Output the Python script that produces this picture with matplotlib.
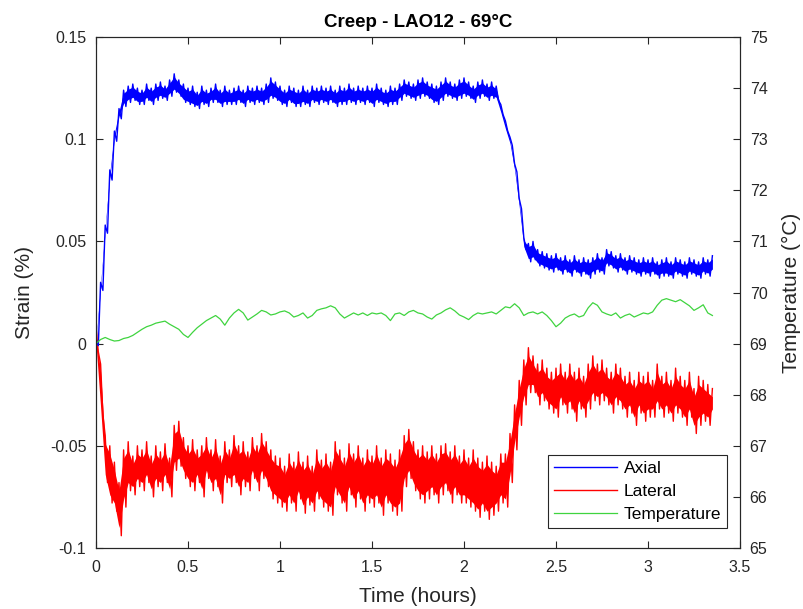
import numpy as np
import matplotlib
matplotlib.use("Agg")
import matplotlib.pyplot as plt

plt.rcParams['font.family'] = ['Liberation Sans', 'DejaVu Sans']

title = "Creep - LAO12 - 69°C"
time_step = 0.025  # hours between envelope readings
x_ticks = [0, 0.5, 1, 1.5, 2, 2.5, 3, 3.5]
x_ticklabels = ["0", "0.5", "1", "1.5", "2", "2.5", "3", "3.5"]
y_ticks = [-0.1, -0.05, 0, 0.05, 0.1, 0.15]
y_ticklabels = ["-0.1", "-0.05", "0", "0.05", "0.1", "0.15"]
t_ticks = [65, 66, 67, 68, 69, 70, 71, 72, 73, 74, 75]

# Axial strain (%) envelope: upper and lower edge of noisy band
axial_hi = [0.002, 0.030, 0.058, 0.085, 0.104, 0.115, 0.124, 0.126, 0.127, 0.125,
            0.124, 0.127, 0.125, 0.127, 0.128, 0.126, 0.129, 0.132, 0.129, 0.127,
            0.125, 0.126, 0.123, 0.126, 0.124, 0.125, 0.127, 0.124, 0.126, 0.124,
            0.125, 0.126, 0.124, 0.126, 0.125, 0.126, 0.125, 0.127, 0.130, 0.128,
            0.126, 0.124, 0.126, 0.125, 0.124, 0.126, 0.124, 0.126, 0.125, 0.126,
            0.125, 0.126, 0.124, 0.126, 0.125, 0.127, 0.125, 0.126, 0.125, 0.126,
            0.125, 0.127, 0.125, 0.124, 0.126, 0.125, 0.127, 0.129, 0.128, 0.127,
            0.129, 0.130, 0.128, 0.127, 0.126, 0.128, 0.130, 0.128, 0.127, 0.129,
            0.130, 0.128, 0.126, 0.128, 0.129, 0.127, 0.128, 0.126, 0.117, 0.109,
            0.101, 0.088, 0.071, 0.052, 0.049, 0.050, 0.046, 0.045, 0.044, 0.043,
            0.044, 0.042, 0.043, 0.041, 0.043, 0.041, 0.042, 0.041, 0.042, 0.044,
            0.042, 0.046, 0.045, 0.043, 0.044, 0.042, 0.043, 0.042, 0.041, 0.042,
            0.041, 0.042, 0.040, 0.041, 0.042, 0.040, 0.042, 0.041, 0.040, 0.042,
            0.041, 0.040, 0.042, 0.041, 0.043]
axial_lo = [-0.001, 0.026, 0.054, 0.080, 0.099, 0.110, 0.116, 0.118, 0.119, 0.117,
            0.117, 0.119, 0.117, 0.119, 0.120, 0.119, 0.121, 0.123, 0.121, 0.118,
            0.117, 0.116, 0.115, 0.117, 0.116, 0.118, 0.118, 0.116, 0.117, 0.117,
            0.117, 0.118, 0.116, 0.118, 0.117, 0.118, 0.117, 0.118, 0.120, 0.119,
            0.117, 0.116, 0.118, 0.116, 0.116, 0.117, 0.116, 0.118, 0.117, 0.118,
            0.117, 0.118, 0.116, 0.117, 0.117, 0.118, 0.117, 0.118, 0.117, 0.118,
            0.116, 0.118, 0.117, 0.116, 0.117, 0.117, 0.119, 0.121, 0.120, 0.119,
            0.120, 0.121, 0.120, 0.118, 0.117, 0.119, 0.121, 0.120, 0.119, 0.120,
            0.121, 0.120, 0.118, 0.120, 0.121, 0.119, 0.120, 0.119, 0.112, 0.104,
            0.097, 0.084, 0.066, 0.046, 0.040, 0.041, 0.038, 0.037, 0.036, 0.035,
            0.036, 0.034, 0.035, 0.033, 0.035, 0.033, 0.034, 0.032, 0.034, 0.035,
            0.034, 0.038, 0.037, 0.035, 0.036, 0.034, 0.035, 0.034, 0.033, 0.034,
            0.033, 0.034, 0.032, 0.033, 0.033, 0.032, 0.034, 0.033, 0.032, 0.034,
            0.033, 0.032, 0.034, 0.033, 0.035]

# Lateral strain (%) envelope
lateral_hi = [0.008, -0.010, -0.045, -0.050, -0.058, -0.068, -0.052, -0.048, -0.055, -0.050,
              -0.052, -0.048, -0.055, -0.050, -0.053, -0.049, -0.056, -0.040, -0.038, -0.046,
              -0.050, -0.047, -0.052, -0.050, -0.046, -0.052, -0.047, -0.055, -0.048, -0.052,
              -0.045, -0.050, -0.048, -0.053, -0.046, -0.050, -0.044, -0.048, -0.052, -0.055,
              -0.056, -0.060, -0.054, -0.058, -0.053, -0.058, -0.055, -0.060, -0.052, -0.057,
              -0.054, -0.058, -0.048, -0.052, -0.056, -0.049, -0.054, -0.050, -0.056, -0.052,
              -0.055, -0.050, -0.056, -0.052, -0.054, -0.057, -0.052, -0.045, -0.042, -0.048,
              -0.052, -0.050, -0.053, -0.050, -0.054, -0.050, -0.049, -0.053, -0.050, -0.055,
              -0.052, -0.056, -0.052, -0.056, -0.058, -0.055, -0.058, -0.060, -0.054, -0.054,
              -0.044, -0.030, -0.018, -0.008, -0.002, -0.006, -0.010, -0.008, -0.012, -0.014,
              -0.012, -0.010, -0.014, -0.010, -0.014, -0.012, -0.016, -0.010, -0.006, -0.010,
              -0.008, -0.012, -0.014, -0.010, -0.012, -0.016, -0.014, -0.018, -0.014, -0.016,
              -0.014, -0.018, -0.010, -0.016, -0.014, -0.018, -0.012, -0.016, -0.018, -0.014,
              -0.022, -0.016, -0.018, -0.020, -0.022]
lateral_lo = [-0.004, -0.035, -0.068, -0.078, -0.082, -0.094, -0.080, -0.072, -0.074, -0.070,
              -0.072, -0.068, -0.075, -0.070, -0.072, -0.068, -0.075, -0.062, -0.060, -0.066,
              -0.070, -0.072, -0.068, -0.075, -0.066, -0.072, -0.070, -0.078, -0.068, -0.070,
              -0.068, -0.074, -0.070, -0.072, -0.066, -0.072, -0.066, -0.070, -0.076, -0.078,
              -0.080, -0.082, -0.078, -0.082, -0.076, -0.083, -0.079, -0.082, -0.076, -0.080,
              -0.082, -0.084, -0.074, -0.078, -0.082, -0.074, -0.080, -0.076, -0.082, -0.078,
              -0.080, -0.078, -0.084, -0.078, -0.082, -0.084, -0.082, -0.070, -0.066, -0.072,
              -0.076, -0.078, -0.076, -0.074, -0.078, -0.074, -0.072, -0.078, -0.074, -0.078,
              -0.078, -0.080, -0.082, -0.085, -0.082, -0.086, -0.084, -0.082, -0.078, -0.080,
              -0.068, -0.052, -0.040, -0.030, -0.024, -0.024, -0.030, -0.028, -0.032, -0.034,
              -0.036, -0.030, -0.034, -0.032, -0.038, -0.032, -0.036, -0.032, -0.028, -0.030,
              -0.028, -0.030, -0.034, -0.030, -0.032, -0.036, -0.034, -0.040, -0.034, -0.038,
              -0.036, -0.036, -0.032, -0.036, -0.034, -0.038, -0.034, -0.036, -0.040, -0.036,
              -0.044, -0.040, -0.038, -0.040, -0.036]

# Temperature (°C)
temperature = [69.00, 69.08, 69.12, 69.08, 69.05, 69.06, 69.10, 69.12, 69.16, 69.22,
               69.28, 69.33, 69.36, 69.40, 69.42, 69.44, 69.38, 69.33, 69.28, 69.18,
               69.12, 69.22, 69.31, 69.38, 69.45, 69.50, 69.55, 69.48, 69.36, 69.50,
               69.60, 69.67, 69.60, 69.46, 69.52, 69.58, 69.65, 69.62, 69.56, 69.58,
               69.62, 69.64, 69.60, 69.52, 69.55, 69.60, 69.50, 69.55, 69.65, 69.68,
               69.70, 69.74, 69.70, 69.58, 69.50, 69.55, 69.60, 69.56, 69.60, 69.55,
               69.60, 69.58, 69.60, 69.55, 69.45, 69.58, 69.60, 69.55, 69.62, 69.65,
               69.60, 69.58, 69.52, 69.48, 69.56, 69.60, 69.66, 69.70, 69.64, 69.56,
               69.52, 69.47, 69.55, 69.60, 69.58, 69.60, 69.62, 69.58, 69.65, 69.72,
               69.70, 69.78, 69.70, 69.55, 69.60, 69.62, 69.58, 69.62, 69.55, 69.45,
               69.33, 69.40, 69.50, 69.55, 69.58, 69.52, 69.55, 69.70, 69.80, 69.75,
               69.62, 69.58, 69.55, 69.60, 69.50, 69.55, 69.58, 69.52, 69.56, 69.60,
               69.58, 69.62, 69.75, 69.85, 69.88, 69.85, 69.82, 69.86, 69.80, 69.74,
               69.65, 69.70, 69.76, 69.60, 69.55]

n = len(temperature)
time = np.arange(n) * time_step


def zigzag(hi, lo):
    tz = np.empty(2 * n)
    yz = np.empty(2 * n)
    tz[0::2] = time
    tz[1::2] = time + time_step / 2
    yz[0::2] = hi
    yz[1::2] = lo
    return tz[:-1], yz[:-1]


fig = plt.figure(figsize=(8.04, 6.09), dpi=100)
ax = fig.add_axes([0.1194, 0.1002, 0.8010, 0.8390])
ax2 = ax.twinx()

blue = '#0000ff'
red = '#ff0000'
green = '#3fd43f'

a_hi, a_lo = np.array(axial_hi), np.array(axial_lo)
l_hi, l_lo = np.array(lateral_hi), np.array(lateral_lo)
a_gap = np.minimum(0.0015, (a_hi - a_lo) / 4)
ta, ya = zigzag(axial_hi, axial_lo)
tl, yl = zigzag(lateral_hi, lateral_lo)
ax.fill_between(time, l_lo + 0.004, l_hi - 0.004, color=red, lw=0)
ll, = ax.plot(tl, yl, color=red, lw=1.0)
ax.fill_between(time, a_lo + a_gap, a_hi - a_gap, color=blue, lw=0)
la, = ax.plot(ta, ya, color=blue, lw=1.0)
lt, = ax2.plot(time, temperature, color=green, lw=0.9)

ax.set_xlim(0, 3.5)
ax.set_ylim(-0.1, 0.15)
ax2.set_ylim(65, 75)
ax.set_xticks(x_ticks)
ax.set_xticklabels(x_ticklabels)
ax.set_yticks(y_ticks)
ax.set_yticklabels(y_ticklabels)
ax2.set_yticks(t_ticks)

ax.tick_params(axis='both', direction='in', labelsize=11.5, length=5, width=0.8, top=True, colors='#262626')
ax.tick_params(axis='y', pad=7)
ax.tick_params(axis='x', pad=9)
ax2.tick_params(axis='y', direction='in', labelsize=11.5, length=5, width=0.8, colors='#262626', pad=7)
for a in (ax, ax2):
    for s in a.spines.values():
        s.set_color('#262626')
        s.set_linewidth(0.8)

ax.set_xlabel("Time (hours)", fontsize=15, color='#262626', labelpad=8)
ax.set_ylabel("Strain (%)", fontsize=15, color='#262626', labelpad=11)
ax2.set_ylabel("Temperature (°C)", fontsize=15, color='#262626', rotation=90, labelpad=10)
ax.set_title(title, fontsize=13.5, fontweight='bold', pad=7)

leg = ax.legend([la, ll, lt], ["Axial", "Lateral", "Temperature"], loc='lower right',
                bbox_to_anchor=(0.98, 0.039), borderaxespad=0, fontsize=12.5, frameon=True,
                fancybox=False, edgecolor='#262626', framealpha=1, handlelength=3.6,
                handletextpad=0.4, borderpad=0.35, labelspacing=0.45)
leg.get_frame().set_linewidth(0.8)

fig.savefig("out.png", dpi=100)
